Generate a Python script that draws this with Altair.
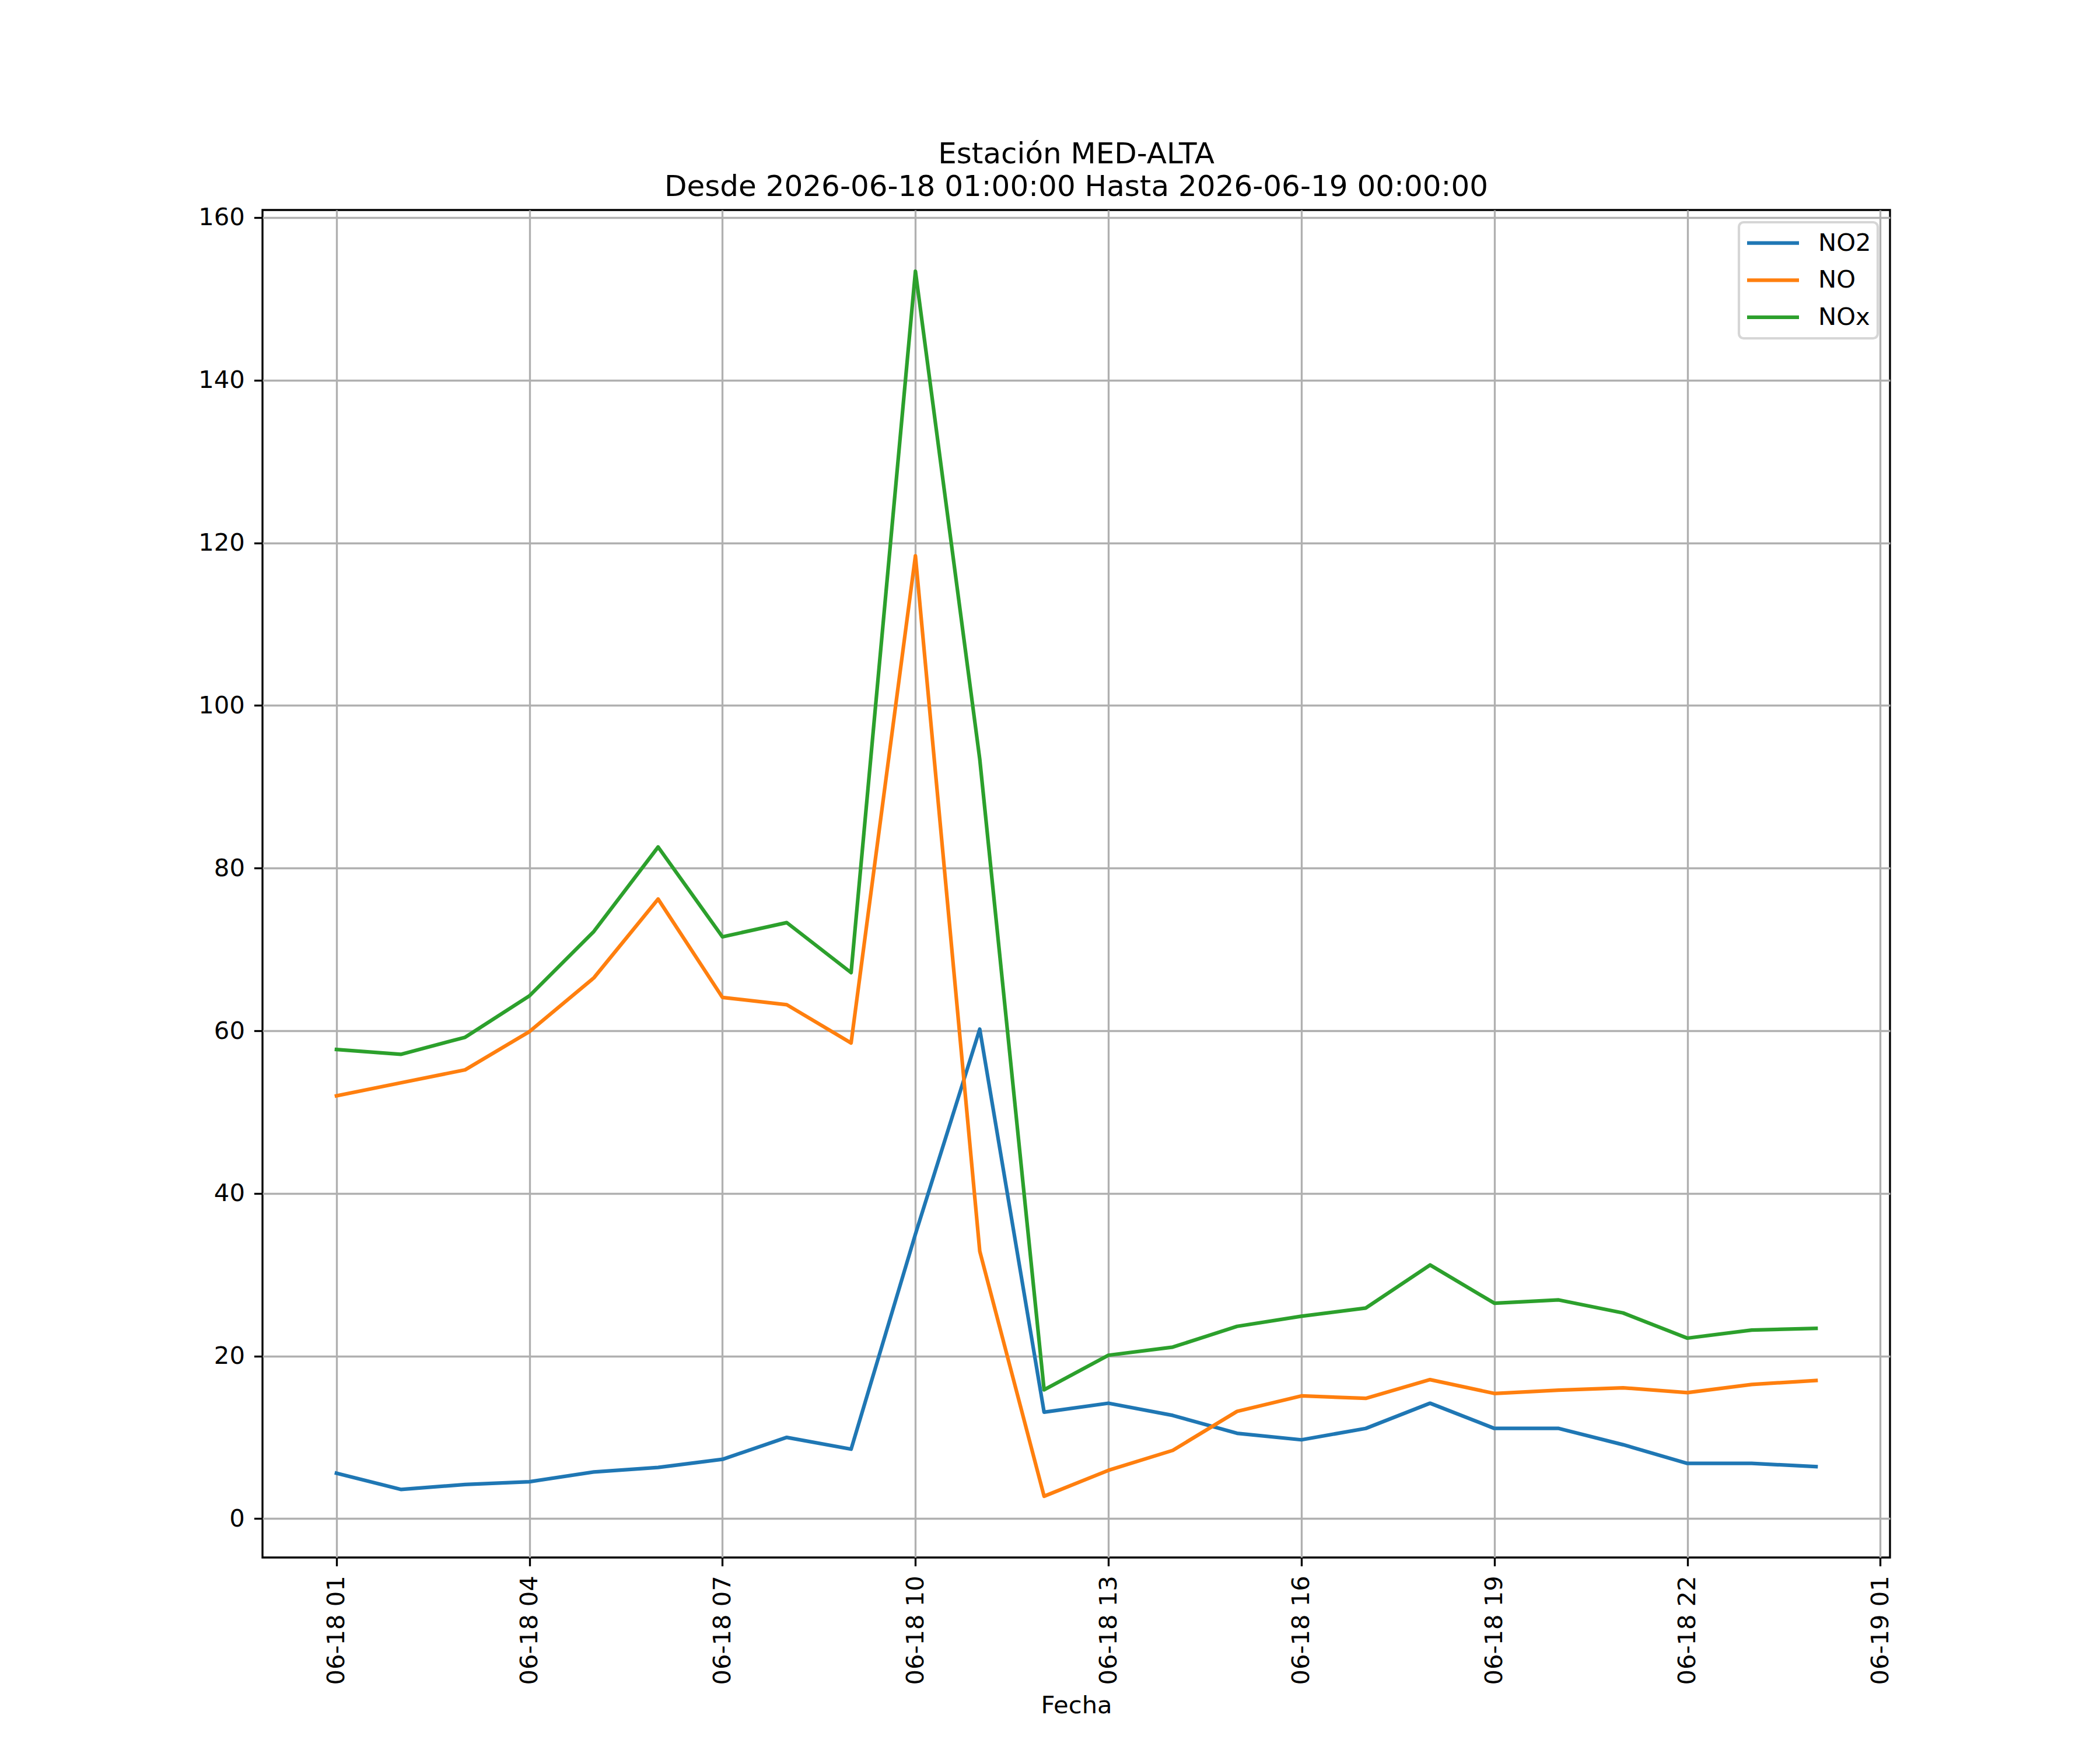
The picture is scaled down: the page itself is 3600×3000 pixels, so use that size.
import altair as alt
import pandas as pd

# ---- data ----
times = [
    "2026-06-18T01:00:00", "2026-06-18T02:00:00", "2026-06-18T03:00:00",
    "2026-06-18T04:00:00", "2026-06-18T05:00:00", "2026-06-18T06:00:00",
    "2026-06-18T07:00:00", "2026-06-18T08:00:00", "2026-06-18T09:00:00",
    "2026-06-18T10:00:00", "2026-06-18T11:00:00", "2026-06-18T12:00:00",
    "2026-06-18T13:00:00", "2026-06-18T14:00:00", "2026-06-18T15:00:00",
    "2026-06-18T16:00:00", "2026-06-18T17:00:00", "2026-06-18T18:00:00",
    "2026-06-18T19:00:00", "2026-06-18T20:00:00", "2026-06-18T21:00:00",
    "2026-06-18T22:00:00", "2026-06-18T23:00:00", "2026-06-19T00:00:00",
]
no2 = [5.6, 3.6, 4.2, 4.55, 5.75, 6.3, 7.3, 10.0, 8.55, 35.0, 60.2, 13.1,
       14.2, 12.7, 10.5, 9.7, 11.1, 14.2, 11.1, 11.1, 9.1, 6.8, 6.8, 6.4]
no = [52.0, 53.6, 55.2, 59.9, 66.5, 76.2, 64.1, 63.2, 58.5, 118.4, 32.9, 2.76,
      5.95, 8.4, 13.2, 15.1, 14.8, 17.1, 15.4, 15.8, 16.1, 15.5, 16.5, 17.0]
nox = [57.7, 57.1, 59.2, 64.3, 72.2, 82.6, 71.55, 73.3, 67.15, 153.4, 93.4, 15.85,
       20.1, 21.1, 23.65, 24.9, 25.9, 31.2, 26.5, 26.9, 25.3, 22.2, 23.2, 23.4]
series_names = ["NO2", "NO", "NOx"]
series_colors = ["#1f77b4", "#ff7f0e", "#2ca02c"]
title_lines = ["Estación MED-ALTA", "Desde 2026-06-18 01:00:00 Hasta 2026-06-19 00:00:00"]
x_label = "Fecha"
y_ticks = [0, 20, 40, 60, 80, 100, 120, 140, 160]
x_tick_hours = [(18, 1), (18, 4), (18, 7), (18, 10), (18, 13), (18, 16), (18, 19), (18, 22), (19, 1)]

rows = []
for name, vals in zip(series_names, [no2, no, nox]):
    for t, v in zip(times, vals):
        rows.append({"Fecha": t, "valor": v, "serie": name})
df = pd.DataFrame(rows)

# matplotlib-like 5% margins
allv = no2 + no + nox
vmin, vmax = min(allv), max(allv)
m = 0.05 * (vmax - vmin)
ydom = [vmin - m, vmax + m]
xdom = [alt.DateTime(year=2026, month=6, date=17, hours=23, minutes=51),
        alt.DateTime(year=2026, month=6, date=19, hours=1, minutes=9)]
xvals = [alt.DateTime(year=2026, month=6, date=d, hours=h) for d, h in x_tick_hours]

FONT = "DejaVu Sans"
LW = 3.33
FS = 41.7

chart = alt.Chart(df).mark_line(
    strokeWidth=6.25, strokeCap="square", strokeJoin="round"
).encode(
    x=alt.X("Fecha:T", title=x_label,
            scale=alt.Scale(domain=xdom, nice=False),
            axis=alt.Axis(values=xvals, format="%m-%d %H", formatType="time",
                          labelAngle=270, labelAlign="right", labelBaseline="middle",
                          labelPadding=16, tickSize=14.6, tickWidth=LW, tickColor="black",
                          domain=False, grid=True, gridColor="#b0b0b0", gridWidth=LW,
                          labelFontSize=FS, labelFont=FONT, labelColor="black",
                          labelLimit=1000,
                          titleFontSize=FS, titleFont=FONT, titleFontWeight="normal",
                          titleColor="black", titlePadding=33, labelFlush=False,
                          labelOverlap=False)),
    y=alt.Y("valor:Q", title=None,
            scale=alt.Scale(domain=ydom, nice=False, zero=False),
            axis=alt.Axis(values=y_ticks, labelPadding=16, tickSize=14.6, tickWidth=LW,
                          tickColor="black", domain=False, grid=True,
                          gridColor="#b0b0b0", gridWidth=LW,
                          labelFontSize=FS, labelFont=FONT, labelColor="black")),
    color=alt.Color("serie:N", sort=series_names,
                    scale=alt.Scale(domain=series_names, range=series_colors),
                    legend=alt.Legend(title=None, orient="top-right", offset=21,
                                      symbolType="stroke", symbolSize=7921,
                                      symbolStrokeWidth=6.25, symbolOffset=0,
                                      labelOffset=29.5, labelFontSize=FS, labelFont=FONT,
                                      labelColor="black", padding=10.5, clipHeight=50.4,
                                      rowPadding=12.6,
                                      fillColor="rgba(255,255,255,0.8)",
                                      strokeColor="#d6d6d6", cornerRadius=8)),
).properties(
    width=2790, height=2310,
    title=alt.TitleParams(text=title_lines, fontSize=50, font=FONT, fontWeight="normal",
                          color="black", anchor="middle", frame="group", offset=7,
                          lineHeight=56),
    autosize=alt.AutoSizeParams(type="none"),
    padding={"left": 442, "top": 352, "right": 352, "bottom": 320},
).configure_view(
    stroke="black", strokeWidth=LW
).configure_legend(
    strokeWidth=4.2
)

chart.save("out.html", embed_options={"renderer": "svg", "actions": False})
